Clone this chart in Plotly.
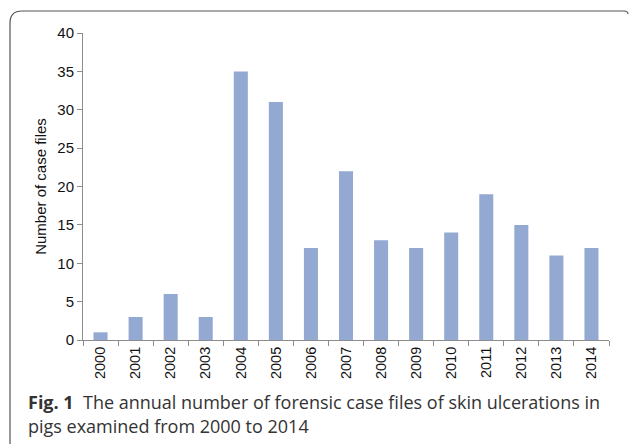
import plotly.graph_objects as go

years = ["2000", "2001", "2002", "2003", "2004", "2005", "2006", "2007",
         "2008", "2009", "2010", "2011", "2012", "2013", "2014"]
case_files = [1, 3, 6, 3, 35, 31, 12, 22, 13, 12, 14, 19, 15, 11, 12]

W, H = 630, 444
L, R, T, B = 83, 21, 33, 104
pw, ph = W - L - R, H - T - B

def px(x):
    return (x - L) / pw

def py(y):
    return (H - B - y) / ph

fig = go.Figure(go.Bar(
    x=years, y=case_files,
    marker=dict(color="#93A9D1", line=dict(width=0)),
    width=0.4,
))

rad = 12
path = (f"M {px(10)},{py(470)} L {px(10)},{py(11 + rad)} "
        f"Q {px(10)},{py(11)} {px(10 + rad)},{py(11)} "
        f"L {px(624)},{py(11)} Q {px(628)},{py(11)} {px(628)},{py(14)}")

fig.update_layout(
    width=W, height=H,
    margin=dict(l=L, r=R, t=T, b=B, pad=0),
    paper_bgcolor="white", plot_bgcolor="white",
    showlegend=False,
    font=dict(family="Arial, Liberation Sans, sans-serif", size=15, color="#111"),
    xaxis=dict(
        type="category", showgrid=False, showline=True, linecolor="#8c8c8c",
        linewidth=1, ticks="outside", tickson="boundaries", ticklen=5,
        tickcolor="#8c8c8c", tickangle=-90, tickfont=dict(size=14.5, color="#111"),
    ),
    yaxis=dict(
        range=[0, 40], dtick=5, showgrid=False, showline=True,
        linecolor="#8c8c8c", linewidth=1, ticks="outside", ticklen=5,
        tickcolor="#8c8c8c", tickfont=dict(size=15, color="#111"),
        title=dict(text="Number of case files", font=dict(size=15, color="#111"), standoff=7),
        zeroline=False,
    ),
    shapes=[dict(type="path", path=path, xref="paper", yref="paper",
                 line=dict(color="#555", width=1.2))],
    annotations=[
        dict(text="<b>Fig. 1</b>  The annual number of forensic case files of skin ulcerations in",
             xref="paper", yref="paper", x=px(26), y=py(388), xanchor="left", yanchor="top",
             showarrow=False, font=dict(family="Open Sans", size=18, color="#333")),
        dict(text="pigs examined from 2000 to 2014",
             xref="paper", yref="paper", x=px(26), y=py(412), xanchor="left", yanchor="top",
             showarrow=False, font=dict(family="Open Sans", size=18, color="#333")),
    ],
)

fig.write_html("out.html", config={"displayModeBar": False},
               post_script="document.body.style.margin='0px';")
